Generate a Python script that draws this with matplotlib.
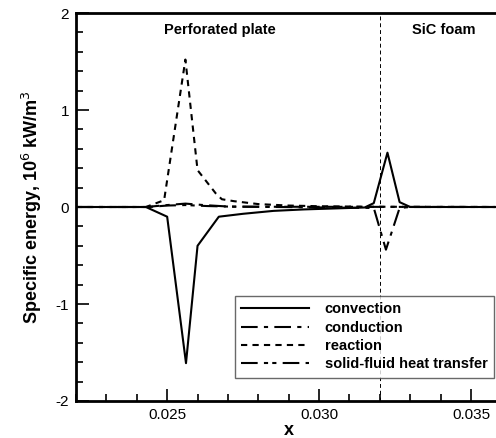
import matplotlib
matplotlib.use('Agg')
import matplotlib.pyplot as plt
from matplotlib.ticker import MultipleLocator

plt.rcParams['font.family'] = ['Liberation Sans', 'DejaVu Sans']

# convection
x_conv = [0.022, 0.0243, 0.0250, 0.02562, 0.0260, 0.0267, 0.0275, 0.0285, 0.0295, 0.0305, 0.0315, 0.0318, 0.03225, 0.03265, 0.0330, 0.0358]
y_conv = [0, 0, -0.10, -1.61, -0.40, -0.10, -0.07, -0.04, -0.025, -0.015, -0.005, 0.04, 0.56, 0.05, 0.0, 0]

# conduction
x_cond = [0.022, 0.0243, 0.0250, 0.0256, 0.0262, 0.0270, 0.0318, 0.0322, 0.03265, 0.0330, 0.0358]
y_cond = [0, 0, 0.02, 0.035, 0.02, 0.005, -0.01, -0.44, -0.01, 0, 0]

# reaction
x_reac = [0.022, 0.0243, 0.0249, 0.0256, 0.0260, 0.0266, 0.0268, 0.0272, 0.0280, 0.0290, 0.0300, 0.0315, 0.0358]
y_reac = [0, 0, 0.07, 1.52, 0.38, 0.14, 0.08, 0.06, 0.03, 0.015, 0.008, 0.003, 0]

# solid-fluid heat transfer
x_sf = [0.022, 0.0244, 0.0250, 0.0256, 0.0263, 0.0272, 0.0358]
y_sf = [0, 0, 0.015, 0.02, 0.01, 0.003, 0]

x_interface = 0.032

fig = plt.figure(figsize=(4.96, 4.38), dpi=100)
ax = fig.add_axes([76/496, 1-401/438, (501.4-76)/496, (401-13)/438])

ax.plot(x_conv, y_conv, color='black', lw=1.5, ls='-', label='convection')
ax.plot(x_cond, y_cond, color='black', lw=1.5, ls=(0, (8, 3, 2, 3)), label='conduction')
ax.plot(x_reac, y_reac, color='black', lw=1.5, ls=(0, (3, 2.5)), label='reaction')
ax.plot(x_sf, y_sf, color='black', lw=1.5, ls=(0, (8, 3, 2, 2, 2, 3)), label='solid-fluid heat transfer')
ax.axvline(x_interface, color='black', lw=0.7, ls=(0, (4, 3)))

ax.set_xlim(0.022, 0.036)
ax.set_ylim(-2, 2)
ax.xaxis.set_major_locator(MultipleLocator(0.005))
ax.xaxis.set_minor_locator(MultipleLocator(0.001))
ax.yaxis.set_major_locator(MultipleLocator(1))
ax.yaxis.set_minor_locator(MultipleLocator(0.2))
ax.xaxis.set_major_formatter(plt.FormatStrFormatter('%.3f'))
ax.yaxis.set_major_formatter(plt.FormatStrFormatter('%d'))
ax.tick_params(which='both', direction='in', top=False, right=False, labelsize=11, width=1.2)
ax.tick_params(which='major', length=9, pad=5)
ax.tick_params(which='minor', length=5)
for s in ax.spines.values():
    s.set_linewidth(2)

ax.set_xlabel('x', fontsize=13, fontweight='bold', labelpad=0)
ax.set_ylabel('Specific energy, 10$^6$ kW/m$^3$', fontsize=13, fontweight='bold', labelpad=8)

ax.text(0.02674, 1.82, 'Perforated plate', ha='center', va='center', fontsize=10.5, fontweight='bold')
ax.text(0.03411, 1.82, 'SiC foam', ha='center', va='center', fontsize=10.5, fontweight='bold')

leg = ax.legend(loc='lower right', bbox_to_anchor=(494/496, 1-378/438), bbox_transform=fig.transFigure,
                prop={'size': 10.5, 'weight': 'bold'}, handlelength=4.6, fancybox=False,
                edgecolor='#444444', borderpad=0.45, labelspacing=0.3, handletextpad=1.1,
                borderaxespad=0)
leg.get_frame().set_linewidth(1.0)

fig.savefig('out.png', dpi=100)
